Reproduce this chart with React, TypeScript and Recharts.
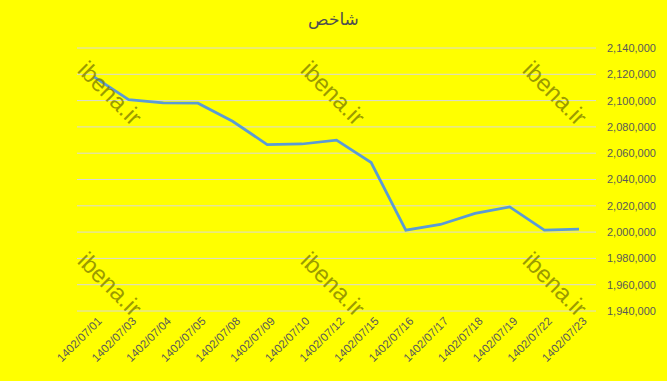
import { LineChart, Line, XAxis, YAxis, CartesianGrid } from "recharts";

const dates = [
  "1402/07/01",
  "1402/07/03",
  "1402/07/04",
  "1402/07/05",
  "1402/07/08",
  "1402/07/09",
  "1402/07/10",
  "1402/07/12",
  "1402/07/15",
  "1402/07/16",
  "1402/07/17",
  "1402/07/18",
  "1402/07/19",
  "1402/07/22",
  "1402/07/23",
];

const indexValues = [
  2118000, 2100800, 2098200, 2098000, 2084300, 2066600, 2067000, 2069900,
  2052900, 2001500, 2005800, 2014200, 2019200, 2001500, 2002300,
];

const yTicks = [
  1940000, 1960000, 1980000, 2000000, 2020000, 2040000, 2060000, 2080000,
  2100000, 2120000, 2140000,
];

const title = "شاخص";
const watermark = "ibena.ir";
// watermark centres (page pixels)
const marks = [
  [110, 93],
  [333, 93],
  [555, 93],
  [110, 284],
  [333, 284],
  [555, 284],
];

const data = dates.map((d, i) => ({ date: d, value: indexValues[i] }));

const fmt = (v: number) => new Intl.NumberFormat("en-US").format(v);

function DateTick({ x, y, payload }: any) {
  return (
    <g transform={`translate(${x},${y})`}>
      <text
        x={0}
        y={0}
        dy={8}
        dx={4}
        textAnchor="end"
        fill="#595959"
        fontSize={11.5}
        fontFamily="'Liberation Sans', Arial, sans-serif"
        transform="rotate(-45)"
      >
        {payload.value}
      </text>
    </g>
  );
}

export default function App() {
  return (
    <div
      style={{
        position: "absolute",
        left: 0,
        top: 0,
        width: 667,
        height: 381,
        background: "#ffff00",
        fontFamily: "'Liberation Sans', Arial, sans-serif",
        overflow: "hidden",
      }}
    >
      <div
        style={{
          position: "absolute",
          left: 0,
          top: 9,
          width: 667,
          textAlign: "center",
          fontFamily: "'DejaVu Sans', sans-serif",
          fontSize: 17,
          color: "#505050",
        }}
      >
        {title}
      </div>
      <LineChart
        width={667}
        height={381}
        data={data}
        margin={{ top: 48, right: 11, bottom: 5, left: 77 }}
        style={{ position: "absolute", left: 0, top: 0 }}
      >
        <CartesianGrid vertical={false} stroke="#d9d9d9" strokeWidth={1} />
        <XAxis
          dataKey="date"
          interval={0}
          height={65}
          padding={{ left: 17, right: 17 }}
          axisLine={false}
          tickLine={false}
          tick={<DateTick />}
        />
        <YAxis
          orientation="right"
          domain={[1940000, 2140000]}
          ticks={yTicks}
          width={60}
          axisLine={false}
          tickLine={false}
          tickMargin={5}
          tickFormatter={fmt}
          tick={{ fill: "#595959", fontSize: 11 }}
        />
        <Line
          type="linear"
          dataKey="value"
          stroke="#5b9bd5"
          strokeWidth={2.75}
          dot={false}
          isAnimationActive={false}
        />
      </LineChart>
      <svg
        width={667}
        height={381}
        style={{ position: "absolute", left: 0, top: 0, pointerEvents: "none" }}
      >
        {marks.map(([cx, cy], i) => (
          <text
            key={i}
            x={cx}
            y={cy}
            textAnchor="middle"
            dominantBaseline="central"
            fontSize={24}
            fontFamily="'Liberation Sans', Arial, sans-serif"
            fill="#7a7a00"
            fillOpacity={0.75}
            transform={`rotate(45 ${cx} ${cy})`}
          >
            {watermark}
          </text>
        ))}
      </svg>
    </div>
  );
}
